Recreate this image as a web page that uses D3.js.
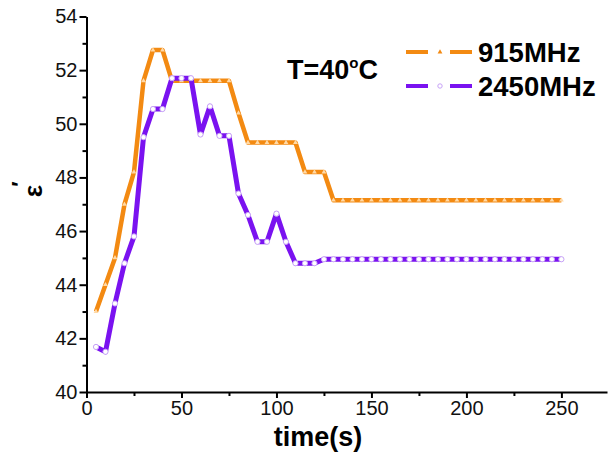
<!DOCTYPE html>
<html>
<head>
<meta charset="utf-8">
<script src="https://cdn.jsdelivr.net/npm/d3@7"></script>
<style>
  body { margin: 0; background: #fff; }
  svg { display: block; font-family: "Liberation Sans", Arial, sans-serif; }
</style>
</head>
<body>
<div id="chart"></div>
<script>
// time points (s)
const times = [5, 10, 15, 20, 25, 30, 35, 40, 45, 50, 55, 60, 65, 70, 75, 80, 85, 90, 95, 100,
  105, 110, 115, 120, 125, 130, 135, 140, 145, 150, 155, 160, 165, 170, 175, 180, 185, 190, 195, 200,
  205, 210, 215, 220, 225, 230, 235, 240, 245, 250];

// epsilon' at 915 MHz
const eps915 = [43.0, 44.0, 45.0, 47.0, 48.2, 51.6, 52.75, 52.75, 51.6, 51.6, 51.6, 51.6, 51.6, 51.6, 51.6, 50.4, 49.3, 49.3, 49.3, 49.3,
  49.3, 49.3, 48.2, 48.2, 48.2, 47.15, 47.15, 47.15, 47.15, 47.15, 47.15, 47.15, 47.15, 47.15, 47.15, 47.15, 47.15, 47.15, 47.15, 47.15,
  47.15, 47.15, 47.15, 47.15, 47.15, 47.15, 47.15, 47.15, 47.15, 47.15];

// epsilon' at 2450 MHz
const eps2450 = [41.68, 41.5, 43.3, 44.8, 45.8, 49.5, 50.55, 50.55, 51.7, 51.7, 51.7, 49.6, 50.65, 49.55, 49.55, 47.4, 46.6, 45.6, 45.6, 46.65,
  45.6, 44.8, 44.8, 44.8, 44.95, 44.95, 44.95, 44.95, 44.95, 44.95, 44.95, 44.95, 44.95, 44.95, 44.95, 44.95, 44.95, 44.95, 44.95, 44.95,
  44.95, 44.95, 44.95, 44.95, 44.95, 44.95, 44.95, 44.95, 44.95, 44.95];

const seriesNames = ["915MHz", "2450MHz"];
const xMajor = [0, 50, 100, 150, 200, 250];
const xMinor = [25, 75, 125, 175, 225];
const yMajor = [40, 42, 44, 46, 48, 50, 52, 54];
const yMinor = [41, 43, 45, 47, 49, 51, 53];

const width = 612, height = 455;
const orange = "#f38a12", purple = "#7a12f0";

const svg = d3.select("#chart").append("svg")
  .attr("width", width)
  .attr("height", height);

const x = d3.scaleLinear().domain([0, 274]).range([86.5, 607]);
const y = d3.scaleLinear().domain([40, 54]).range([392, 16.5]);

// minor ticks
svg.append("g")
  .attr("transform", `translate(0,${y(40)})`)
  .call(d3.axisBottom(x).tickValues(xMinor).tickSize(4).tickFormat(""))
  .call(g => g.select(".domain").remove());
svg.append("g")
  .attr("transform", `translate(${x(0)},0)`)
  .call(d3.axisLeft(y).tickValues(yMinor).tickSize(4).tickFormat(""))
  .call(g => g.select(".domain").remove());

// major axes
const xAxis = svg.append("g")
  .attr("transform", `translate(0,${y(40)})`)
  .call(d3.axisBottom(x).tickValues(xMajor).tickSize(6).tickPadding(3).tickSizeOuter(0));
const yAxis = svg.append("g")
  .attr("transform", `translate(${x(0)},0)`)
  .call(d3.axisLeft(y).tickValues(yMajor).tickSize(7).tickPadding(2).tickSizeOuter(0));

[xAxis, yAxis].forEach(g => {
  g.select(".domain").attr("stroke", "#000").attr("stroke-width", 2);
  g.selectAll(".tick text").style("font-size", "20px").attr("fill", "#111")
    .style("font-family", "'Liberation Sans', Arial, sans-serif");
});
svg.selectAll(".tick line").attr("stroke", "#000").attr("stroke-width", 2);

// axis titles
svg.append("text")
  .attr("x", 318)
  .attr("y", 446)
  .attr("text-anchor", "middle")
  .style("font-size", "27px")
  .style("font-weight", "bold")
  .text("time(s)");

// y title: epsilon turned on its side, prime set apart above-left
svg.append("text")
  .attr("transform", "translate(33,191) rotate(-90)")
  .attr("text-anchor", "middle")
  .attr("dominant-baseline", "central")
  .style("font-size", "26px")
  .style("font-weight", "bold")
  .text("ε");
svg.append("text")
  .attr("transform", "translate(19,184) rotate(-90)")
  .attr("text-anchor", "middle")
  .attr("dominant-baseline", "central")
  .style("font-size", "22px")
  .style("font-weight", "bold")
  .text("′");

// lines
const line = d3.line()
  .x((d, i) => x(times[i]))
  .y(d => y(d));

svg.append("path")
  .datum(eps915)
  .attr("d", line)
  .attr("fill", "none")
  .attr("stroke", orange)
  .attr("stroke-width", 4.5)
  .attr("stroke-linejoin", "round");

svg.append("g").selectAll("path")
  .data(eps915)
  .join("path")
  .attr("transform", (d, i) => `translate(${x(times[i])},${y(d)})`)
  .attr("d", d3.symbol(d3.symbolTriangle, 10))
  .attr("fill", "#ffd9a6");

svg.append("path")
  .datum(eps2450)
  .attr("d", line)
  .attr("fill", "none")
  .attr("stroke", purple)
  .attr("stroke-width", 5)
  .attr("stroke-linejoin", "round");

svg.append("g").selectAll("circle")
  .data(eps2450)
  .join("circle")
  .attr("cx", (d, i) => x(times[i]))
  .attr("cy", d => y(d))
  .attr("r", 2.6)
  .attr("fill", "#fff")
  .attr("stroke", "#c7a2f7")
  .attr("stroke-width", 1);

// annotation
const tLabel = svg.append("text")
  .attr("x", 287)
  .attr("y", 79)
  .style("font-size", "27px")
  .style("font-weight", "bold");
tLabel.append("tspan").text("T=40");
tLabel.append("tspan").attr("dy", -11).style("font-size", "15px").text("o");
tLabel.append("tspan").attr("dy", 11).text("C");

// legend
const legendRows = [
  { name: seriesNames[0], color: orange, y: 52 },
  { name: seriesNames[1], color: purple, y: 86 }
];
legendRows.forEach(r => {
  svg.append("line")
    .attr("x1", 406).attr("x2", 428)
    .attr("y1", r.y).attr("y2", r.y)
    .attr("stroke", r.color).attr("stroke-width", 4);
  svg.append("line")
    .attr("x1", 450).attr("x2", 472)
    .attr("y1", r.y).attr("y2", r.y)
    .attr("stroke", r.color).attr("stroke-width", 4);
  svg.append("text")
    .attr("x", 478)
    .attr("y", r.y + 10)
    .style("font-size", "27.5px")
    .style("font-weight", "bold")
    .text(r.name);
});
svg.append("path")
  .attr("transform", `translate(440,${legendRows[0].y})`)
  .attr("d", d3.symbol(d3.symbolTriangle, 10))
  .attr("fill", orange);
svg.append("circle")
  .attr("cx", 440).attr("cy", legendRows[1].y)
  .attr("r", 2.2)
  .attr("fill", "#fff")
  .attr("stroke", "#c7a2f7");
</script>
</body>
</html>
